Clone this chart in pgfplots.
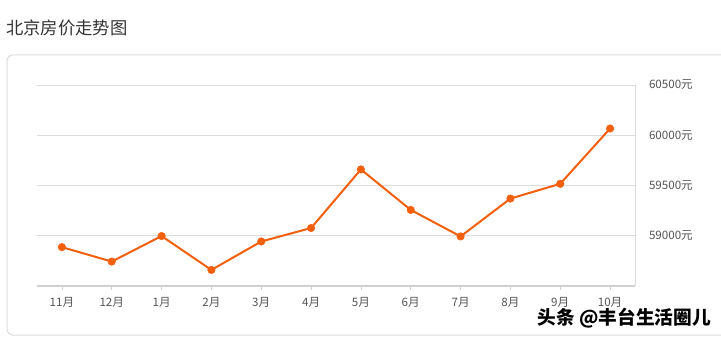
\documentclass[border=0pt]{standalone}
\usepackage{fontspec}
\setmainfont{Noto Sans CJK SC}
\usepackage{pgfplots}
\pgfplotsset{compat=1.18}
\definecolor{lineorange}{RGB}{242,96,14}
\definecolor{gridgray}{RGB}{221,221,221}
\definecolor{axisgray}{RGB}{208,208,208}
\definecolor{labelgray}{RGB}{85,85,85}
\definecolor{titlegray}{RGB}{51,51,51}
\begin{document}
\begin{tikzpicture}[x=0.75pt,y=0.75pt]
\path[use as bounding box] (0,0) rectangle (721,336);
\fill[white] (0,0) rectangle (721,336);
% frame
\draw[gridgray, line width=0.75pt, rounded corners=4] (7,1) rectangle (740,281);
% title
\node[anchor=west, inner sep=0pt, text=titlegray, font=\fontsize{13pt}{15pt}\selectfont] at (6,308) {北京房价走势图};
\begin{axis}[
  at={(27.75pt,37.5pt)}, anchor=south west,
  scale only axis,
  width=448.5pt, height=150.75pt,
  xmin=-0.5, xmax=11.5,
  ymin=58500, ymax=60500,
  axis x line*=bottom,
  axis y line*=right,
  x axis line style={draw=axisgray, line width=1.5pt},
  y axis line style={draw=gridgray, line width=0.75pt},
  xtick={0,...,11},
  xticklabels={11月,12月,1月,2月,3月,4月,5月,6月,7月,8月,9月,10月},
  ytick={59000,59500,60000,60500},
  yticklabels={59000元,59500元,60000元,60500元},
  scaled y ticks=false,
  ymajorgrids,
  grid style={draw=gridgray, line width=0.75pt},
  tick align=outside,
  xtick style={draw=axisgray, line width=0.6pt},
  ytick style={draw=none},
  x tick label style={font=\fontsize{8.7pt}{10pt}\selectfont, text=labelgray, yshift=-2pt},
  y tick label style={font=\fontsize{8.7pt}{10pt}\selectfont, text=labelgray, anchor=west, xshift=4pt},
  /pgf/number format/assume math mode=true,
  major tick length=3pt,
  clip=false,
]
\addplot[lineorange, line width=1.5pt, mark=*, mark size=2.8pt, mark options={fill=lineorange, draw=lineorange, line width=0.4pt}]
coordinates {
(0,58887) (1,58743) (2,58997) (3,58660) (4,58943) (5,59077)
(6,59660) (7,59257) (8,58993) (9,59370) (10,59517) (11,60067)
};
\end{axis}
% watermark
\node[anchor=east, inner sep=0pt, text=black, font=\fontsize{14pt}{16pt}\selectfont\bfseries] at (711,18) {头条 @丰台生活圈儿};
\end{tikzpicture}
\end{document}
